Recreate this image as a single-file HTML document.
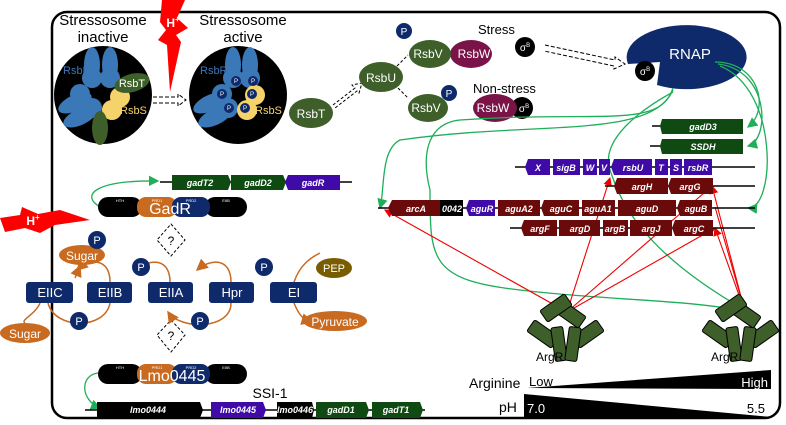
<!DOCTYPE html>
<html><head><meta charset="utf-8"><style>
html,body{margin:0;padding:0;background:#fff;}
svg{display:block;font-family:"Liberation Sans","DejaVu Sans",sans-serif;}
.gi{font-style:italic;font-weight:bold;font-size:9px;fill:#fff;text-anchor:middle;}
.w{fill:#fff;text-anchor:middle;}
</style></head><body>
<svg width="786" height="425" viewBox="0 0 786 425" xmlns="http://www.w3.org/2000/svg">
<defs>
<marker id="ga" markerWidth="8" markerHeight="8" refX="7" refY="4" orient="auto"><path d="M0,0 L8,4 L0,8 Z" fill="#1fae5a"/></marker>
<marker id="ra" markerWidth="8" markerHeight="8" refX="7" refY="4" orient="auto"><path d="M0,0 L8,4 L0,8 Z" fill="#e00"/></marker>
<marker id="oa" markerWidth="8" markerHeight="8" refX="7" refY="4" orient="auto"><path d="M0,0 L8,4 L0,8 Z" fill="#c86a20"/></marker>
</defs>
<rect x="52" y="12" width="728" height="406" rx="15" fill="none" stroke="#000" stroke-width="2.5"/>

<!-- stressosome -->
<text x="103" y="25" font-size="15" text-anchor="middle">Stressosome</text>
<text x="103" y="42" font-size="15" text-anchor="middle">inactive</text>
<text x="243" y="25" font-size="15" text-anchor="middle">Stressosome</text>
<text x="243" y="42" font-size="15" text-anchor="middle">active</text>
<circle cx="103" cy="95" r="49" fill="#000"/>
<circle cx="238" cy="95" r="49" fill="#000"/>
<g fill="#3a78b8">
<ellipse cx="92" cy="65" rx="8" ry="18"/><circle cx="92" cy="78" r="10"/>
<ellipse cx="110" cy="65" rx="8" ry="18"/><circle cx="110" cy="78" r="10"/>
<ellipse cx="75" cy="103" rx="18" ry="8" transform="rotate(-25 75 103)"/><circle cx="80" cy="94" r="10"/>
<ellipse cx="80" cy="117" rx="18" ry="8" transform="rotate(-25 80 117)"/><circle cx="92" cy="108" r="10"/>
<ellipse cx="233" cy="65" rx="8" ry="18"/><circle cx="233" cy="78" r="10"/>
<ellipse cx="250" cy="65" rx="8" ry="18"/><circle cx="250" cy="78" r="10"/>
<ellipse cx="210" cy="103" rx="18" ry="8" transform="rotate(-25 210 103)"/><circle cx="222" cy="94" r="10"/>
<ellipse cx="215" cy="117" rx="18" ry="8" transform="rotate(-25 215 117)"/><circle cx="228" cy="108" r="10"/>
</g>
<text x="63" y="74" font-size="11" fill="#3a78b8">RsbR</text>
<text x="200" y="74" font-size="11" fill="#3a78b8">RsbR</text>
<g fill="#f5d36a"><circle cx="120" cy="97" r="10"/><circle cx="112" cy="110" r="10"/><circle cx="255" cy="95" r="10"/><circle cx="247" cy="110" r="10"/></g>
<ellipse cx="132" cy="83" rx="18" ry="9" fill="#3e5e2a" transform="rotate(-15 132 83)"/>
<text x="132" y="87" font-size="11" class="w">RsbT</text>
<ellipse cx="100" cy="128" rx="8" ry="17" fill="#3e5e2a"/>
<text x="120" y="114" font-size="11" fill="#f5d36a">RsbS</text>
<text x="255" y="114" font-size="11" fill="#f5d36a">RsbS</text>
<g fill="#0f2a6b">
<circle cx="236" cy="81" r="5"/><circle cx="253" cy="81" r="5"/><circle cx="222" cy="94" r="5"/><circle cx="252" cy="94" r="5"/><circle cx="229" cy="108" r="5"/><circle cx="245" cy="108" r="5"/>
</g>
<g font-size="6" class="w"><text x="236" y="83">P</text><text x="253" y="83">P</text><text x="222" y="96">P</text><text x="252" y="96">P</text><text x="229" y="110">P</text><text x="245" y="110">P</text></g>
<!-- bolt top -->
<path d="M162,0 L185,0 L177,18 L188,28 L176,35 L181,42 L170,92 L167,45 L158,40 L166,30 L160,22 Z" fill="#f00"/>
<text x="173" y="27" font-size="12" font-weight="bold" class="w">H<tspan font-size="8" dy="-5">+</tspan></text>
<path d="M153,97 L178,97 L178,94 L186,100 L178,106 L178,103 L153,103" fill="none" stroke="#000" stroke-dasharray="4,2"/>
<!-- Rsb cascade -->
<ellipse cx="311" cy="113" rx="22" ry="15" fill="#3e5e2a"/><text x="311" y="118" font-size="12" class="w">RsbT</text>
<path d="M333,105 L355,88 L352,85 L362,83 L359,93 L357,91 L335,108" fill="none" stroke="#000" stroke-dasharray="3,2"/>
<ellipse cx="381" cy="77" rx="22" ry="15" fill="#3e5e2a"/><text x="381" y="82" font-size="12" class="w">RsbU</text>
<path d="M397,66 L408,55 M398,88 L408,98" stroke="#000" stroke-dasharray="3,2"/>
<text x="478" y="34" font-size="13">Stress</text>
<circle cx="404" cy="31" r="8" fill="#0f2a6b"/><text x="404" y="35" font-size="10" class="w">P</text>
<ellipse cx="471" cy="54" rx="21" ry="14" fill="#7a1448"/>
<ellipse cx="430" cy="54" rx="21" ry="14" fill="#3e5e2a"/>
<text x="428" y="58" font-size="12" class="w">RsbV</text><text x="474" y="58" font-size="12" class="w">RsbW</text>
<ellipse cx="525" cy="47" rx="10" ry="10" fill="#000"/><text x="525" y="51" font-size="10" class="w">σ<tspan font-size="6" dy="-4">B</tspan></text>
<path d="M545,45 L615,60 L615,57 L625,64 L614,69 L614,66 L544,51" fill="none" stroke="#000" stroke-dasharray="4,2"/>
<text x="473" y="93" font-size="13">Non-stress</text>
<ellipse cx="428" cy="108" rx="20" ry="14" fill="#3e5e2a"/><text x="426" y="112" font-size="12" class="w">RsbV</text>
<circle cx="449" cy="93" r="8" fill="#0f2a6b"/><text x="449" y="97" font-size="10" class="w">P</text>
<ellipse cx="522" cy="108" rx="11" ry="11" fill="#000"/>
<ellipse cx="495" cy="108" rx="22" ry="14" fill="#7a1448"/><text x="493" y="112" font-size="12" class="w">RsbW</text>
<text x="524" y="112" font-size="10" class="w">σ<tspan font-size="6" dy="-4">B</tspan></text>
<path d="M660,62 L628,64 A60,32 0 1 1 657,85 Z" fill="#0f2a6b"/>
<text x="690" y="59" font-size="15" class="w">RNAP</text>
<circle cx="645" cy="71" r="10" fill="#000"/><text x="645" y="75" font-size="10" class="w">σ<tspan font-size="6" dy="-4">B</tspan></text>

<!-- green connectors -->
<g fill="none" stroke="#1fae5a" stroke-width="1.3">
<path d="M715,62 C760,62 770,110 748,127" marker-end="url(#ga)"/>
<path d="M718,64 C770,70 770,140 748,146" marker-end="url(#ga)"/>
<path d="M720,66 C780,90 775,210 748,208" marker-end="url(#ga)"/>
<path d="M673,88 C660,130 600,110 460,120 C430,123 420,150 430,190 C430,260 430,280 520,290 C600,300 700,300 745,312"/>
<path d="M673,90 C650,140 540,120 400,140 C380,150 385,190 380,208" marker-end="url(#ga)"/>
<path d="M673,92 C640,110 600,140 610,170 C620,200 640,250 745,310"/>
<path d="M100,207 C80,195 95,180 158,181" marker-end="url(#ga)"/>
<path d="M98,373 C80,375 80,400 100,408" marker-end="url(#ga)"/>
</g>
<!-- red connectors -->
<g fill="none" stroke="#e00" stroke-width="1.1">
<path d="M567,312 L385,210" marker-end="url(#ra)"/>
<path d="M567,312 L610,178" marker-end="url(#ra)"/>
<path d="M567,312 L712,186" marker-end="url(#ra)"/>
<path d="M567,312 L715,228" marker-end="url(#ra)"/>
<path d="M745,312 L712,186" marker-end="url(#ra)"/>
<path d="M745,312 L715,228" marker-end="url(#ra)"/>
<path d="M745,312 L715,207"/>
</g>

<!-- right genes -->
<g stroke="#000" stroke-width="1.5">
<line x1="652" y1="126" x2="665" y2="126"/><line x1="650" y1="146" x2="662" y2="146"/>
<line x1="515" y1="167" x2="755" y2="167"/><line x1="605" y1="186" x2="755" y2="186"/>
<line x1="378" y1="208" x2="755" y2="208"/><line x1="510" y1="228" x2="755" y2="228"/>
<line x1="160" y1="182" x2="352" y2="182"/><line x1="85" y1="410" x2="425" y2="410"/>
</g>
<g font-size="9">
<path d="M662,119 H743 V134 H662 L660,126Z" fill="#0e4a12"/><text x="703" y="130" class="gi">gadD3</text>
<path d="M662,139 H743 V154 H662 L660,146Z" fill="#0e4a12"/><text x="703" y="150" class="gi">SSDH</text>
<g fill="#3f0aa8">
<path d="M528,159 H550 V175 H528 L525,167Z"/><path d="M553,159 H580 V175 H553Z"/><path d="M583,159 H597 V175 H583Z"/><path d="M599,159 H610 V175 H599Z"/>
<path d="M614,159 H652 V175 H614 L611,167Z"/><path d="M655,159 H668 V175 H655Z"/><path d="M670,159 H682 V175 H670Z"/><path d="M684,159 H712 V175 H684Z"/>
</g>
<text x="538" y="171" class="gi">X</text><text x="566" y="171" class="gi">sigB</text><text x="590" y="171" class="gi">W</text><text x="604" y="171" class="gi">V</text><text x="633" y="171" class="gi">rsbU</text><text x="661" y="171" class="gi">T</text><text x="676" y="171" class="gi">S</text><text x="698" y="171" class="gi">rsbR</text>
<g fill="#6a0a0a">
<path d="M617,178 H668 V194 H617 L614,186Z"/><path d="M671,178 H713 V194 H671 L668,186Z"/>
<path d="M392,200 H440 V216 H392 L388,208Z"/><path d="M498,200 H540 V216 H498Z"/><path d="M544,200 H579 V216 H544 L541,208Z"/><path d="M582,200 H615 V216 H582Z"/><path d="M618,200 H676 V216 H618Z"/><path d="M680,200 H712 V216 H680 L677,208Z"/>
<path d="M524,220 H557 V236 H524 L521,228Z"/><path d="M559,220 H600 V236 H559Z"/><path d="M603,220 H628 V236 H603Z"/><path d="M630,220 H672 V236 H630Z"/><path d="M675,220 H713 V236 H675 L672,228Z"/>
</g>
<path d="M440,200 H463 V216 H440Z" fill="#000"/><path d="M469,200 H495 V216 H469 L466,208Z" fill="#3f0aa8"/>
<text x="642" y="190" class="gi">argH</text><text x="690" y="190" class="gi">argG</text>
<text x="416" y="212" class="gi">arcA</text><text x="452" y="212" class="gi">0042</text><text x="482" y="212" class="gi">aguR</text><text x="519" y="212" class="gi">aguA2</text><text x="561" y="212" class="gi">aguC</text><text x="598" y="212" class="gi">aguA1</text><text x="647" y="212" class="gi">aguD</text><text x="696" y="212" class="gi">aguB</text>
<text x="540" y="232" class="gi">argF</text><text x="580" y="232" class="gi">argD</text><text x="615" y="232" class="gi">argB</text><text x="651" y="232" class="gi">argJ</text><text x="694" y="232" class="gi">argC</text>
<!-- gadT2 row -->
<path d="M172,175 H228 L231,182 L228,190 H172Z" fill="#0e4a12"/><path d="M231,175 H283 L286,182 L283,190 H231Z" fill="#0e4a12"/><path d="M288,175 H340 V190 H288 L285,182Z" fill="#3f0aa8"/>
<text x="200" y="186" class="gi">gadT2</text><text x="258" y="186" class="gi">gadD2</text><text x="313" y="186" class="gi">gadR</text>
<!-- bottom row -->
<path d="M97,402 H200 L203,410 L200,418 H97Z" fill="#000"/><path d="M211,402 H263 L266,410 L263,418 H211Z" fill="#3f0aa8"/><path d="M277,402 H312 L314,410 L312,418 H277Z" fill="#000"/><path d="M316,402 H366 L369,410 L366,418 H316Z" fill="#0e4a12"/><path d="M372,402 H420 L423,410 L420,418 H372Z" fill="#0e4a12"/>
<text x="148" y="413" class="gi">lmo0444</text><text x="238" y="413" class="gi">lmo0445</text><text x="295" y="413" class="gi">lmo0446</text><text x="341" y="413" class="gi">gadD1</text><text x="396" y="413" class="gi">gadT1</text>
</g>
<text x="270" y="398" font-size="14" text-anchor="middle">SSI-1</text>

<!-- GadR / Lmo0445 pills -->
<g>
<rect x="98" y="197" width="44" height="20" rx="10" fill="#000"/><rect x="205" y="197" width="42" height="20" rx="10" fill="#000"/>
<rect x="137" y="197" width="40" height="20" rx="9" fill="#c86a20"/><rect x="172" y="197" width="38" height="20" rx="9" fill="#0f2a6b"/>
<text x="170" y="214" font-size="16" class="w">GadR</text>
<rect x="98" y="364" width="44" height="20" rx="10" fill="#000"/><rect x="205" y="364" width="42" height="20" rx="10" fill="#000"/>
<rect x="137" y="364" width="40" height="20" rx="9" fill="#c86a20"/><rect x="172" y="364" width="38" height="20" rx="9" fill="#0f2a6b"/>
<text x="172" y="381" font-size="16" class="w">Lmo0445</text>
<g font-size="4" class="w"><text x="120" y="202">HTH</text><text x="157" y="202">PRD1</text><text x="191" y="202">PRD2</text><text x="226" y="202">EIIB</text>
<text x="120" y="369">HTH</text><text x="157" y="369">PRD1</text><text x="191" y="369">PRD2</text><text x="226" y="369">EIIB</text></g>
</g>
<!-- left bolt -->
<path d="M0,218 L20,215 L22,207 L38,214 L60,210 L90,220 L55,225 L40,233 L25,228 L5,232 Z" fill="#f00"/>
<text x="33" y="225" font-size="12" font-weight="bold" class="w">H<tspan font-size="8" dy="-5">+</tspan></text>
<!-- ? diamonds -->
<g fill="none" stroke="#000" stroke-dasharray="3,2">
<path d="M171,224 L185,240 L171,256 L157,240Z"/><path d="M171,320 L185,335 L171,352 L157,335Z"/>
</g>
<text x="171" y="245" font-size="12" text-anchor="middle">?</text><text x="171" y="340" font-size="12" text-anchor="middle">?</text>

<!-- PTS -->
<g fill="none" stroke="#c86a20" stroke-width="1.5">
<path d="M75,278 L80,266" marker-end="url(#oa)"/>
<path d="M40,303 C35,315 20,320 25,323"/>
<path d="M110,282 C110,258 90,258 77,270" marker-end="url(#oa)"/>
<path d="M48,303 C55,330 105,330 110,303" />
<path d="M170,282 C170,258 150,258 135,270" marker-end="url(#oa)"/>
<path d="M231,282 C231,258 211,258 197,270" marker-end="url(#oa)"/>
<path d="M231,303 C231,330 180,330 168,312" marker-end="url(#oa)"/>
<path d="M294,282 C300,265 310,258 320,253"/>
<path d="M294,303 C300,318 305,320 312,322" marker-end="url(#oa)"/>
</g>
<g fill="#0f2a6b">
<rect x="26" y="282" width="47" height="21" rx="3"/><rect x="87" y="282" width="45" height="21" rx="3"/><rect x="148" y="282" width="45" height="21" rx="3"/><rect x="209" y="282" width="45" height="21" rx="3"/><rect x="270" y="282" width="47" height="21" rx="3"/>
</g>
<g font-size="13" class="w"><text x="50" y="297">EIIC</text><text x="110" y="297">EIIB</text><text x="171" y="297">EIIA</text><text x="232" y="297">Hpr</text><text x="294" y="297">EI</text></g>
<ellipse cx="82" cy="255" rx="23" ry="10" fill="#c86a20"/><text x="82" y="260" font-size="12" class="w">Sugar</text>
<ellipse cx="25" cy="333" rx="25" ry="10" fill="#c86a20"/><text x="25" y="338" font-size="12" class="w">Sugar</text>
<ellipse cx="334" cy="268" rx="18" ry="10" fill="#7a5c00"/><text x="334" y="272" font-size="11" class="w">PEP</text>
<ellipse cx="335" cy="321" rx="32" ry="10" fill="#c86a20"/><text x="335" y="326" font-size="12" class="w">Pyruvate</text>
<g fill="#0f2a6b"><circle cx="97" cy="240" r="9"/><circle cx="141" cy="267" r="9"/><circle cx="264" cy="267" r="9"/><circle cx="79" cy="321" r="9"/><circle cx="200" cy="321" r="9"/></g>
<g font-size="11" class="w"><text x="97" y="244">P</text><text x="141" y="271">P</text><text x="264" y="271">P</text><text x="79" y="325">P</text><text x="200" y="325">P</text></g>

<!-- ArgR -->
<g fill="#3e5e2a" stroke="#000" stroke-width="1">
<g transform="translate(566,335)">
<rect x="-30" y="-16" width="14" height="30" rx="2" transform="rotate(-55 -23 -1)"/>
<rect x="-3" y="-36" width="14" height="30" rx="2" transform="rotate(-55 4 -21)"/>
<rect x="15" y="-16" width="14" height="30" rx="2" transform="rotate(55 22 -1)"/>
<rect x="-17" y="-42" width="14" height="30" rx="2" transform="rotate(55 -10 -27)"/>
<rect x="-13" y="-8" width="12" height="34" rx="2" transform="rotate(-8 -7 9)"/>
<rect x="1" y="-8" width="12" height="34" rx="2" transform="rotate(8 7 9)"/>
</g>
<g transform="translate(741,335)">
<rect x="-30" y="-16" width="14" height="30" rx="2" transform="rotate(-55 -23 -1)"/>
<rect x="-3" y="-36" width="14" height="30" rx="2" transform="rotate(-55 4 -21)"/>
<rect x="15" y="-16" width="14" height="30" rx="2" transform="rotate(55 22 -1)"/>
<rect x="-17" y="-42" width="14" height="30" rx="2" transform="rotate(55 -10 -27)"/>
<rect x="-13" y="-8" width="12" height="34" rx="2" transform="rotate(-8 -7 9)"/>
<rect x="1" y="-8" width="12" height="34" rx="2" transform="rotate(8 7 9)"/>
</g>
</g>
<text x="536" y="361" font-size="12">ArgR</text><text x="711" y="361" font-size="12">ArgR</text>
<text x="469" y="388" font-size="14">Arginine</text>
<path d="M527,388 L771,370 L771,389 Z" fill="#000"/>
<text x="529" y="386" font-size="13">Low</text>
<text x="768" y="387" font-size="13" fill="#fff" text-anchor="end">High</text>
<text x="499" y="412" font-size="14">pH</text>
<path d="M524,394 L524,417 L771,417 Z" fill="#000"/>
<text x="527" y="413" font-size="13" fill="#fff">7.0</text>
<text x="765" y="413" font-size="13" text-anchor="end">5.5</text>
</svg>
</body></html>
